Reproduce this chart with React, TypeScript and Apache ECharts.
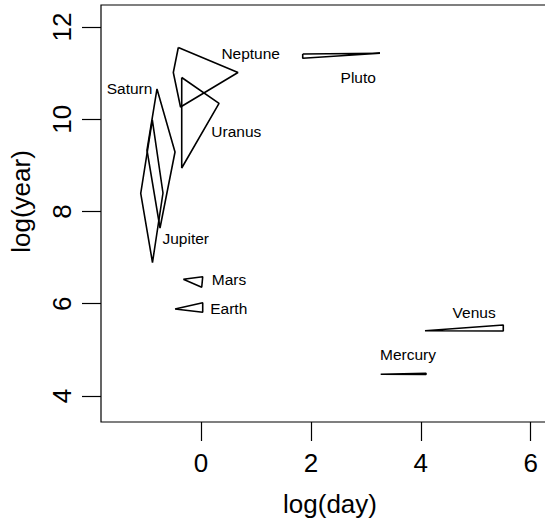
import { useEffect, useRef } from "react";
import * as echarts from "echarts";

// Axis ranges (log scale values) and tick positions
const xRange = [-1.82, 6.515];
const yRange = [3.436, 12.477];
const xTicks = [0, 2, 4, 6];
const yTicks = [4, 6, 8, 10, 12];

// Planet names and the outline of each planet's glyph in (log(day), log(year)) units
const planetNames = ["Mercury", "Venus", "Earth", "Mars", "Jupiter", "Saturn", "Uranus", "Neptune", "Pluto"];

const mercuryShape = [[3.27, 4.47], [4.095, 4.492], [4.095, 4.466]];
const venusShape = [[4.076, 5.416], [5.501, 5.539], [5.501, 5.409]];
const earthShape = [[-0.473, 5.886], [0.031, 6.023], [0.031, 5.815]];
const marsShape = [[-0.322, 6.53], [0.031, 6.586], [0.013, 6.357]];
const jupiterShape = [[-0.886, 9.984], [-0.692, 8.401], [-0.883, 6.894], [-1.097, 8.395]];
const saturnShape = [[-0.801, 10.656], [-0.473, 9.29], [-0.746, 7.642], [-0.983, 9.333]];
const uranusShape = [[-0.351, 10.905], [0.328, 10.346], [-0.351, 8.943]];
const neptuneShape = [[-0.413, 11.556], [0.673, 11.014], [-0.373, 10.266], [-0.504, 11.014]];
const plutoShape = [[1.851, 11.415], [3.257, 11.43], [1.851, 11.321]];

const planetShapes = [
  mercuryShape, venusShape, earthShape, marsShape, jupiterShape,
  saturnShape, uranusShape, neptuneShape, plutoShape,
];

// Label centre for each planet name
const labelX = [3.767, 4.97, 0.505, 0.51, -0.278, -1.301, 0.643, 0.904, 2.861];
const labelY = [4.905, 5.806, 5.897, 6.519, 7.425, 10.662, 9.745, 11.427, 10.905];

const FONT = "'Liberation Sans', Arial, Helvetica, sans-serif";

export default function App() {
  const ref = useRef<HTMLDivElement>(null);

  useEffect(() => {
    if (!ref.current) return;
    const chart = echarts.init(ref.current, null, { renderer: "svg" });

    const shapeSeries = planetNames.map((name, i) => ({
      name,
      type: "line",
      data: [...planetShapes[i], planetShapes[i][0]],
      symbol: "none",
      lineStyle: { color: "#000", width: 1.6 },
      silent: true,
    }));

    const labelData = planetNames.map((name, i) => [labelX[i], labelY[i], name]);

    chart.setOption({
      animation: false,
      backgroundColor: "#fff",
      textStyle: { fontFamily: FONT },
      grid: {
        left: 101,
        top: 5,
        width: 458,
        height: 417,
        show: true,
        borderColor: "#000",
        borderWidth: 1.2,
        backgroundColor: "transparent",
      },
      xAxis: {
        type: "value",
        min: xRange[0],
        max: xRange[1],
        name: "log(day)",
        nameLocation: "middle",
        nameGap: 69,
        nameTextStyle: { color: "#000", fontSize: 26, fontFamily: FONT },
        axisLine: { show: false, onZero: false },
        splitLine: { show: false },
        axisTick: {
          show: true,
          length: 19,
          customValues: xTicks,
          lineStyle: { color: "#000", width: 1.2 },
        },
        axisLabel: {
          customValues: xTicks,
          color: "#000",
          fontSize: 26,
          fontFamily: FONT,
          margin: 28,
        },
      },
      yAxis: {
        type: "value",
        min: yRange[0],
        max: yRange[1],
        name: "log(year)",
        nameLocation: "middle",
        nameGap: 67,
        nameTextStyle: { color: "#000", fontSize: 26, fontFamily: FONT, padding: [0, 0, 0, 24] },
        axisLine: { show: false, onZero: false },
        splitLine: { show: false },
        axisTick: {
          show: true,
          length: 19,
          customValues: yTicks,
          lineStyle: { color: "#000", width: 1.2 },
        },
        axisLabel: {
          customValues: yTicks,
          color: "#000",
          fontSize: 26,
          fontFamily: FONT,
          rotate: 90,
          margin: 26,
        },
      },
      series: [
        ...shapeSeries,
        {
          type: "custom",
          silent: true,
          data: labelData,
          renderItem: (params: any, api: any) => {
            const p = api.coord([api.value(0), api.value(1)]);
            return {
              type: "text",
              x: p[0],
              y: p[1],
              style: {
                text: labelData[params.dataIndex][2],
                align: "center",
                verticalAlign: "middle",
                fill: "#000",
                font: `15.5px ${FONT}`,
              },
            };
          },
        },
      ],
    });

    return () => chart.dispose();
  }, []);

  // The plotting box runs past the right edge of the visible frame
  return (
    <div
      style={{ position: "fixed", left: 0, top: 0, width: 545, height: 525, overflow: "hidden", background: "#fff" }}
    >
      <div ref={ref} style={{ width: 600, height: 525 }} />
    </div>
  );
}
